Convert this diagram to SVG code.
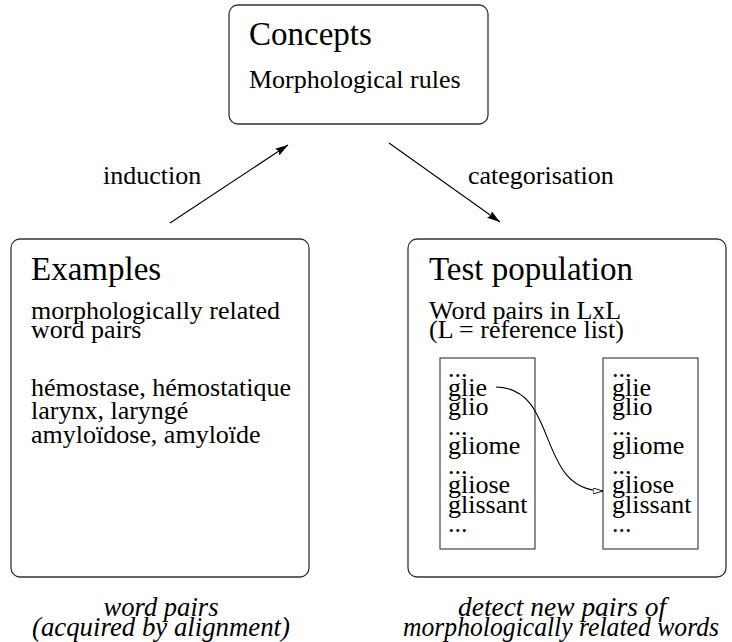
<svg xmlns="http://www.w3.org/2000/svg" width="732" height="642" viewBox="0 0 732 642">
<style>
.box{fill:#fff;stroke:#333;stroke-width:1.3}
.lst{fill:none;stroke:#444;stroke-width:1.2}
.t{font-family:"Liberation Serif","Times New Roman",serif;fill:#000}
.h{font-size:33px}
.b{font-size:26px}
.c{font-size:28px;font-style:italic;text-anchor:middle}
.ln{fill:none;stroke:#000;stroke-width:1.1}
</style>
<defs>
<marker id="ah" viewBox="0 0 13 8" refX="13" refY="4" markerWidth="13" markerHeight="8" markerUnits="userSpaceOnUse" orient="auto">
<path d="M0,0 L13,4 L0,8 L2,4 Z" fill="#000"/>
</marker>
<marker id="oh" viewBox="0 0 10 6" refX="10" refY="3" markerWidth="10" markerHeight="6" markerUnits="userSpaceOnUse" orient="auto">
<path d="M0,0 L10,3 L0,6 Z" fill="#fff" stroke="#000" stroke-width="0.9"/>
</marker>
</defs>
<rect width="732" height="642" fill="#fff"/>
<g id="concepts">
<rect class="box" x="229" y="5" width="259" height="119" rx="9"/>
<text class="t h" x="249" y="45">Concepts</text>
<text class="t b" x="249" y="88">Morphological rules</text>
</g>
<g id="examples">
<rect class="box" x="11" y="239" width="298" height="338" rx="9"/>
<text class="t h" x="31" y="280">Examples</text>
<text class="t b" x="31" y="319">morphologically related</text>
<text class="t b" x="31" y="338">word pairs</text>
<text class="t b" x="31" y="396">hémostase, hémostatique</text>
<text class="t b" x="31" y="419">larynx, laryngé</text>
<text class="t b" x="31" y="443">amyloïdose, amyloïde</text>
</g>
<g id="test-population">
<rect class="box" x="408" y="239" width="318" height="338" rx="9"/>
<text class="t h" x="429" y="280">Test population</text>
<text class="t b" x="429" y="319">Word pairs in LxL</text>
<text class="t b" x="429" y="338">(L = reference list)</text>
</g>
<g id="list-left">
<rect class="lst" x="440" y="358" width="95" height="191"/>
<text class="t b" x="448" y="377">...</text>
<text class="t b" x="448" y="395.5">glie</text>
<text class="t b" x="448" y="415">glio</text>
<text class="t b" x="448" y="434.5">...</text>
<text class="t b" x="448" y="454">gliome</text>
<text class="t b" x="448" y="473.5">...</text>
<text class="t b" x="448" y="493">gliose</text>
<text class="t b" x="448" y="512.5">glissant</text>
<text class="t b" x="448" y="532">...</text>
</g>
<g id="list-right">
<rect class="lst" x="603" y="358" width="95" height="191"/>
<text class="t b" x="612" y="377">...</text>
<text class="t b" x="612" y="395.5">glie</text>
<text class="t b" x="612" y="415">glio</text>
<text class="t b" x="612" y="434.5">...</text>
<text class="t b" x="612" y="454">gliome</text>
<text class="t b" x="612" y="473.5">...</text>
<text class="t b" x="612" y="493">gliose</text>
<text class="t b" x="612" y="512.5">glissant</text>
<text class="t b" x="612" y="532">...</text>
</g>
<g id="connectors">
<line class="ln" x1="170" y1="223" x2="288" y2="145" marker-end="url(#ah)"/>
<line class="ln" x1="389" y1="143" x2="500" y2="222" marker-end="url(#ah)"/>
<path class="ln" d="M496,387 C560,388 535,491 603,491" marker-end="url(#oh)"/>
</g>
<g id="labels">
<text class="t b" x="103" y="184">induction</text>
<text class="t b" x="468" y="184">categorisation</text>
<text class="t c" x="161" y="616" textLength="115" lengthAdjust="spacingAndGlyphs">word pairs</text>
<text class="t c" x="161" y="636" textLength="258" lengthAdjust="spacingAndGlyphs">(acquired by alignment)</text>
<text class="t c" x="562" y="616" textLength="208" lengthAdjust="spacingAndGlyphs">detect new pairs of</text>
<text class="t c" x="561" y="636" textLength="316" lengthAdjust="spacingAndGlyphs">morphologically related words</text>
</g>
</svg>
